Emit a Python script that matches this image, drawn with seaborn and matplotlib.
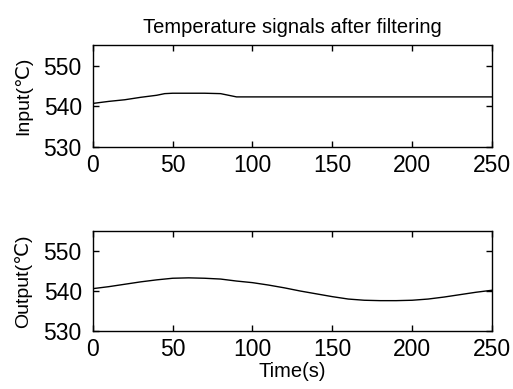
import matplotlib
matplotlib.use('AGG')
import matplotlib.pyplot as plt
import seaborn as sns
import pandas as pd

# values (time in s, temperature in degC)
in_time = [0, 10, 20, 30, 40, 45, 50, 60, 70, 80, 85, 90, 100, 150, 200, 250]
in_temp = [540.7, 541.2, 541.6, 542.2, 542.7, 543.1, 543.2, 543.2, 543.2, 543.1, 542.7, 542.3,
           542.3, 542.3, 542.3, 542.3]

out_time = [0, 10, 20, 30, 40, 50, 60, 70, 80, 90, 100, 110, 120, 130, 140, 150, 160, 170,
            180, 190, 200, 210, 220, 230, 240, 250]
out_temp = [540.6, 541.1, 541.7, 542.3, 542.8, 543.2, 543.3, 543.2, 543.0, 542.5, 542.1, 541.5,
            540.8, 540.0, 539.3, 538.6, 538.0, 537.7, 537.6, 537.6, 537.7, 538.0, 538.5, 539.1,
            539.7, 540.2]

x_ticks = [0, 50, 100, 150, 200, 250]
y_ticks = [530, 540, 550]


def style_axis(ax, ylabel):
    ax.set_xlim(0, 250)
    ax.set_ylim(530, 555)
    ax.set_xticks(x_ticks)
    ax.set_yticks(y_ticks)
    ax.tick_params(direction='in', top=True, right=True, length=4, width=1,
                   labelsize=16.5, colors='black', labelcolor='black')
    ax.tick_params(axis='x', pad=5)
    ax.tick_params(axis='y', pad=8)
    for s in ax.spines.values():
        s.set_visible(True)
        s.set_color('black')
        s.set_linewidth(1)
    ax.set_ylabel(ylabel, fontsize=14, labelpad=8, color='black')
    ax.set_xlabel('')


def main():
    sns.set_style("ticks")
    plt.rcParams['font.family'] = ['Liberation Sans', 'DejaVu Sans']
    plt.rcParams['text.color'] = 'black'
    plt.rcParams['axes.labelcolor'] = 'black'

    fig = plt.figure(figsize=(5.13, 3.89), dpi=100)
    ax1 = fig.add_axes([0.181, 0.622, 0.778, 0.262])
    ax2 = fig.add_axes([0.181, 0.149, 0.778, 0.257])

    df_in = pd.DataFrame({"t": in_time, "v": in_temp})
    df_out = pd.DataFrame({"t": out_time, "v": out_temp})

    sns.lineplot(data=df_in, x="t", y="v", ax=ax1, color='black', linewidth=1)
    sns.lineplot(data=df_out, x="t", y="v", ax=ax2, color='black', linewidth=1)

    style_axis(ax1, 'Input(\u2103)')
    style_axis(ax2, 'Output(\u2103)')
    ax1.set_title('Temperature signals after filtering', fontsize=14.5, pad=9, color='black')
    ax2.set_xlabel('Time(s)', fontsize=14.5, labelpad=1, color='black')

    fig.savefig("out.png", dpi=100)


if __name__ == "__main__":
    main()
